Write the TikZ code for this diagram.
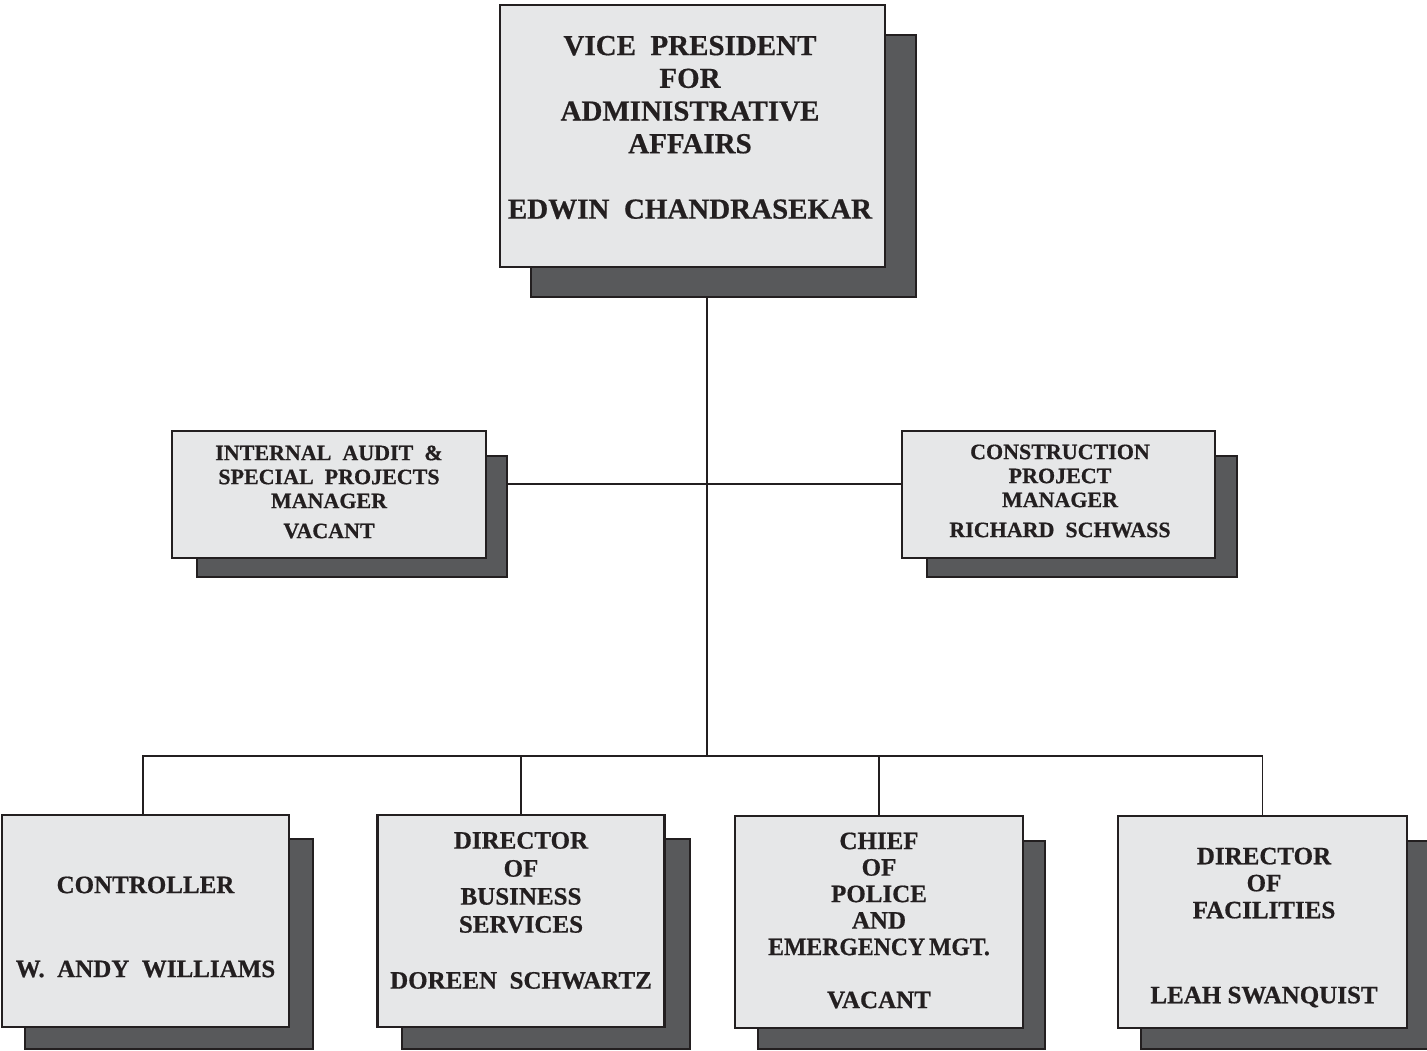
\documentclass[tikz,border=0pt]{standalone}
\usepackage{fontspec}
\setmainfont{Liberation Serif}[BoldFeatures={FakeBold=0.6}]
\definecolor{ink}{HTML}{231F20}
\definecolor{boxfill}{HTML}{E6E7E8}
\definecolor{shadowfill}{HTML}{58595B}
\begin{document}
\begin{tikzpicture}[x=1pt,y=-1pt,
  card/.style={draw=ink, fill=boxfill, line width=2.2pt, inner sep=0pt},
  backcard/.style={draw=ink, fill=shadowfill, line width=2pt, inner sep=0pt},
  link/.style={draw=ink, line width=1.4pt},
  bigtxt/.style={align=center, inner sep=0pt, text=ink, font=\bfseries\fontsize{29}{32.7}\selectfont},
  midtxt/.style={align=center, inner sep=0pt, text=ink, font=\bfseries\fontsize{22}{24}\selectfont},
  lowtxt/.style={align=center, inner sep=0pt, text=ink, font=\bfseries\fontsize{25}{28}\selectfont}]
\useasboundingbox (0,0) rectangle (1427,1051);
\fill[white] (0,0) rectangle (1427,1051);

% shadow plates
\node[backcard, minimum width=385, minimum height=262] (vpS) at (723.5,166) {};
\node[backcard, minimum width=310, minimum height=121] (iaS) at (352,516.5) {};
\node[backcard, minimum width=310, minimum height=121] (cpS) at (1082,516.5) {};
\node[backcard, minimum width=288, minimum height=210] (ctS) at (169,944) {};
\node[backcard, minimum width=288, minimum height=210] (bsS) at (546,944) {};
\node[backcard, minimum width=287, minimum height=208] (pdS) at (901.5,945) {};
\node[backcard, minimum width=292, minimum height=208] (fcS) at (1287,945) {};

% front cards
\node[card, minimum width=385, minimum height=262] (vpB) at (692.5,136) {};
\node[card, minimum width=314, minimum height=127] (iaB) at (329,494.5) {};
\node[card, minimum width=313, minimum height=127] (cpB) at (1058.5,494.5) {};
\node[card, minimum width=287, minimum height=212] (ctB) at (145.5,921) {};
\node[card, minimum width=287, minimum height=212] (bsB) at (521,921) {};
\node[card, minimum width=288, minimum height=212] (pdB) at (879,922) {};
\node[card, minimum width=289, minimum height=212] (fcB) at (1262.5,922) {};

% labels
\node[bigtxt] (vpT) at (690,127.5) {VICE\ \ PRESIDENT\\FOR\\ADMINISTRATIVE\\AFFAIRS\\[32.7pt]EDWIN\ \ CHANDRASEKAR};
\node[midtxt] (iaT) at (329,492) {INTERNAL\ \ AUDIT\ \ \&\\SPECIAL\ \ PROJECTS\\MANAGER\\[6pt]VACANT};
\node[midtxt] (cpT) at (1060,491) {CONSTRUCTION\\PROJECT\\MANAGER\\[6pt]RICHARD\ \ SCHWASS};
\node[lowtxt] (ctT) at (145.5,927) {CONTROLLER\\[56pt]W.\ \ ANDY\ \ WILLIAMS};
\node[lowtxt] (bsT) at (521,910.5) {DIRECTOR\\OF\\BUSINESS\\SERVICES\\[28pt]DOREEN\ \ SCHWARTZ};
\node[lowtxt, font=\bfseries\fontsize{25}{26.5}\selectfont] (pdT) at (879,920.5) {CHIEF\\OF\\POLICE\\AND\\\scalebox{0.95}[1]{EMERGENCY\hspace{4pt}MGT.}\\[26.5pt]VACANT};
\node[lowtxt, font=\bfseries\fontsize{25}{27}\selectfont] (fcT) at (1264,927.5) {DIRECTOR\\OF\\FACILITIES\\[58pt]LEAH SWANQUIST};

% connector junctions
\coordinate (hub) at (707,484);
\coordinate (bus) at (707,756);

% connectors
\draw[link] (vpS.south -| hub) -- (bus);
\draw[link] (iaS.east |- hub) -- (cpB.west |- hub);
\draw[link] (ctB.north) ++(-2.5,0) coordinate (ctTop) -- (ctTop |- bus) -- (fcB.north |- bus) -- (fcB.north);
\draw[link] (bsB.north) -- (bsB.north |- bus);
\draw[link] (pdB.north) -- (pdB.north |- bus);
\end{tikzpicture}
\end{document}
